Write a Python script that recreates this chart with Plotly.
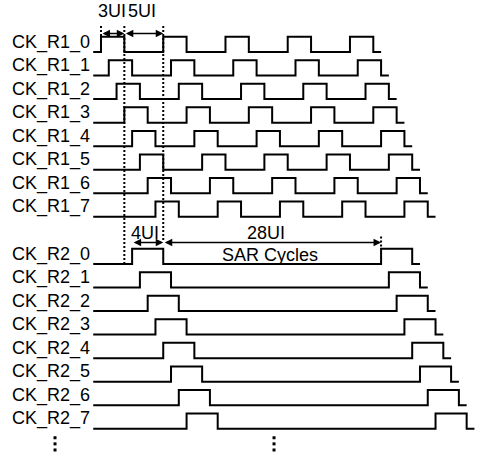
import plotly.graph_objects as go

# ---------------- data (time in UI, rows counted from top) ----------------
r1_labels = ["CK_R1_0", "CK_R1_1", "CK_R1_2", "CK_R1_3",
             "CK_R1_4", "CK_R1_5", "CK_R1_6", "CK_R1_7"]
r2_labels = ["CK_R2_0", "CK_R2_1", "CK_R2_2", "CK_R2_3",
             "CK_R2_4", "CK_R2_5", "CK_R2_6", "CK_R2_7"]
r1_rows = [0, 1, 2, 3, 4, 5, 6, 7]
r2_rows = [9, 10, 11, 12, 13, 14, 15, 16]
r1_phase = [0, 1, 2, 3, 4, 5, 6, 7]          # UI delay of each R1 clock
r2_phase = [0, 1, 2, 3, 4, 5, 6, 7]          # UI delay of each R2 clock
r1_rise = [0, 8, 16, 24, 32]                 # rising edges of CK_R1_0
r1_fall = [3, 11, 19, 27, 35]                # falling edges of CK_R1_0
r1_end = 36
r2_rise = [4, 36]                            # rising edges of CK_R2_0
r2_fall = [8, 40]                            # falling edges of CK_R2_0
r2_end = 41
t_start = -1
amp = 0.65

# markers / annotations
dot_t = [0, 3, 8, 36]
dot_y0 = [1.10, 1.10, 1.10, -7.83]
dot_y1 = [0.65, -9.0, -8.04, -8.35]
arrow_from = [0, 3, 4, 8]
arrow_to = [3, 8, 8, 36]
arrow_y = [0.79, 0.79, -8.09, -8.09]
note_text = ["3UI", "5UI", "4UI", "28UI", "SAR Cycles"]
note_t = [1.35, 5.3, 5.7, 21.2, 21.7]
note_y = [1.76, 1.76, -7.70, -7.70, -8.62]
ell_t = [-5.91, 22.24]
ell_y = [-16.38, -16.64, -16.90]

FONT = "Liberation Sans, Arial, sans-serif"
fig = go.Figure()


def wave(rise, fall, end, shift):
    xs, ys = [t_start], [0.0]
    for r, f in zip(rise, fall):
        xs += [r + shift, f + shift]
        ys += [amp, 0.0]
    xs.append(end + shift)
    ys.append(0.0)
    return xs, ys


annotations = []
for labels, rows, phases, rise, fall, end in (
        (r1_labels, r1_rows, r1_phase, r1_rise, r1_fall, r1_end),
        (r2_labels, r2_rows, r2_phase, r2_rise, r2_fall, r2_end)):
    for lab, row, ph in zip(labels, rows, phases):
        xs, ys = wave(rise, fall, end, ph)
        fig.add_trace(go.Scatter(x=xs, y=[v - row for v in ys], mode="lines",
                                 line=dict(color="black", width=2, shape="hv"),
                                 hoverinfo="skip"))
        annotations.append(dict(x=t_start, y=-row + 0.42, text=lab, showarrow=False,
                                xanchor="right", yanchor="middle", xshift=-1,
                                font=dict(family=FONT, size=18, color="black")))

for t, y0, y1 in zip(dot_t, dot_y0, dot_y1):
    fig.add_trace(go.Scatter(x=[t, t], y=[y0, y1], mode="lines",
                             line=dict(color="black", width=2, dash="2px,2px"),
                             hoverinfo="skip"))

for a, b, y in zip(arrow_from, arrow_to, arrow_y):
    annotations.append(dict(x=b, y=y, ax=a, ay=y, axref="x", ayref="y", text="",
                            showarrow=True, arrowhead=2, arrowside="end+start",
                            arrowsize=1, arrowwidth=1.5, arrowcolor="black",
                            standoff=0, startstandoff=0))

for txt, t, y in zip(note_text, note_t, note_y):
    annotations.append(dict(x=t, y=y, text=txt, showarrow=False,
                            xanchor="center", yanchor="middle",
                            font=dict(family=FONT, size=18, color="black")))

for t in ell_t:
    fig.add_trace(go.Scatter(x=[t] * len(ell_y), y=ell_y, mode="markers",
                             marker=dict(symbol="square", size=3, color="black"),
                             hoverinfo="skip"))

fig.update_layout(
    width=483, height=458, margin=dict(l=0, r=0, t=0, b=0),
    paper_bgcolor="white", plot_bgcolor="white", showlegend=False,
    xaxis=dict(range=[-12.982, 49.100], visible=False, fixedrange=True),
    yaxis=dict(range=[-17.24, 2.208], visible=False, fixedrange=True),
    annotations=annotations,
)
fig.write_html("out.html")
